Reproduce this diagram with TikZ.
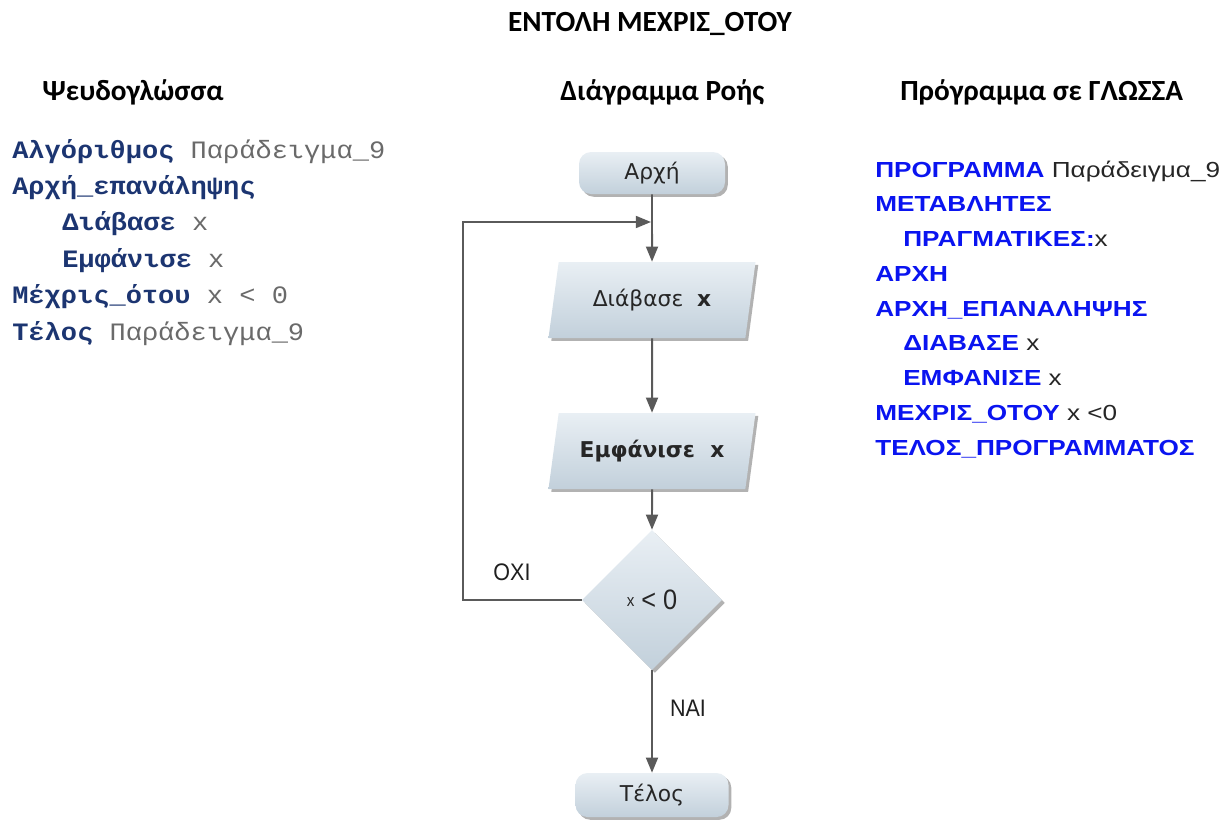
\documentclass[tikz,border=0pt]{standalone}
\usepackage{fontspec}
\usepackage{tikz}
\usetikzlibrary{shapes.geometric}
\usetikzlibrary{arrows.meta}
\usetikzlibrary{shadows}
\setmainfont{Carlito}
\newfontfamily\pseudofont[FakeStretch=1.08]{Liberation Mono}
\newfontfamily\progfont[FakeStretch=1.2]{Liberation Sans}
\newfontfamily\flowfont{DejaVu Sans}
\newfontfamily\answerfont[FakeStretch=0.9]{Liberation Sans}
\definecolor{pseudoblue}{HTML}{1C3571}
\definecolor{pseudogray}{HTML}{6A6A6A}
\definecolor{progblue}{HTML}{0A14F0}
\definecolor{flowgray}{HTML}{5A5A5A}
\definecolor{shapetop}{HTML}{E9EFF4}
\definecolor{shapebot}{HTML}{C2D0DB}
\newcommand{\pkw}[1]{{\bfseries\color{pseudoblue}#1}}
\newcommand{\gkw}[1]{{\bfseries\color{progblue}#1}}
\tikzset{shapefill/.style={top color=shapetop, bottom color=shapebot, draw=none, text=black!85,
    drop shadow={shadow xshift=.7mm, shadow yshift=-.7mm, fill=black!55, opacity=.55}}}
\tikzset{term/.style={shapefill, rectangle, rounded corners=3mm, minimum width=36.5mm,
    minimum height=10.5mm, font=\flowfont\fontsize{15.5}{18}\selectfont}}
\tikzset{io/.style={shapefill, trapezium, trapezium left angle=72, trapezium right angle=108,
    trapezium stretches body, minimum width=51.75mm, minimum height=19mm,
    font=\flowfont\fontsize{15.5}{18}\selectfont}}
\tikzset{decision/.style={shapefill, diamond, aspect=1, inner sep=0pt, minimum width=35mm,
    minimum height=35mm, font=\answerfont}}
\tikzset{flow/.style={draw=flowgray, line width=1.4pt, -{Triangle[length=3.8mm, width=3mm]}}}
\tikzset{heading/.style={font=\bfseries\fontsize{20.8}{24}\selectfont, inner sep=0pt}}
\tikzset{answer/.style={font=\answerfont\fontsize{17}{20}\selectfont, text=black!88}}

\begin{document}
\begin{tikzpicture}[x=0.25mm,y=-0.25mm]
  \useasboundingbox (0,0) rectangle (1232,819);
  % titles
  \node[heading, anchor=base] (title) at (650,32) {ΕΝΤΟΛΗ ΜΕΧΡΙΣ\_ΟΤΟΥ};
  \node[heading, anchor=base west] (pseudohead) at (42,101) {Ψευδογλώσσα};
  \node[heading, anchor=base west] (flowhead) at (560,101) {Διάγραμμα Ροής};
  \node[heading, anchor=base west] (proghead) at (900,101) {Πρόγραμμα σε ΓΛΩΣΣΑ};
  % pseudocode
  \foreach \i/\ind/\txt in {
    0/0/{\pkw{Αλγόριθμος} Παράδειγμα\_9},
    1/0/{\pkw{Αρχή\_επανάληψης}},
    2/1/{\pkw{Διάβασε} x},
    3/1/{\pkw{Εμφάνισε} x},
    4/0/{\pkw{Μέχρις\_ότου} x < 0},
    5/0/{\pkw{Τέλος} Παράδειγμα\_9}%
  } {
    \node[anchor=base west, inner sep=0pt, text=pseudogray,
      font=\pseudofont\fontsize{17.8}{20}\selectfont] (ps\i) at ({12+50*\ind},{158+36.4*\i}) {\txt};
  }
  % program
  \foreach \i/\ind/\txt in {
    0/0/{\gkw{ΠΡΟΓΡΑΜΜΑ} Παράδειγμα\_9},
    1/0/{\gkw{ΜΕΤΑΒΛΗΤΕΣ}},
    2/1/{\gkw{ΠΡΑΓΜΑΤΙΚΕΣ:}x},
    3/0/{\gkw{ΑΡΧΗ}},
    4/0/{\gkw{ΑΡΧΗ\_ΕΠΑΝΑΛΗΨΗΣ}},
    5/1/{\gkw{ΔΙΑΒΑΣΕ} x},
    6/1/{\gkw{ΕΜΦΑΝΙΣΕ} x},
    7/0/{\gkw{ΜΕΧΡΙΣ\_ΟΤΟΥ} x <0},
    8/0/{\gkw{ΤΕΛΟΣ\_ΠΡΟΓΡΑΜΜΑΤΟΣ}}%
  } {
    \node[anchor=base west, inner sep=0pt, text=black!85,
      font=\progfont\fontsize{15.5}{18}\selectfont] (pg\i) at ({875+28*\ind},{177+34.75*\i}) {\txt};
  }
  % flowchart
  \node[term] (start) at (652,173) {Αρχή};
  \node[io] (read) at (652,300) {Διάβασε\ \ \textbf{x}};
  \node[io] (show) at (652,451) {\textbf{Εμφάνισε\ \ x}};
  \node[decision] (cond) at (652,600) {\raisebox{2pt}{\fontsize{12}{14}\selectfont x}\hspace{5pt}{\fontsize{20}{22}\selectfont < 0}};
  \node[term, minimum width=38.25mm, minimum height=11mm] (stop) at (652,795) {Τέλος};
  \node[answer] (no) at (512,572) {ΟΧΙ};
  \node[answer] (yes) at (688,708) {ΝΑΙ};
  \coordinate (corner) at (463,222);
  \coordinate (merge) at (651,222);
  \draw[flow] (start) -- (read);
  \draw[flow] (read) -- (show);
  \draw[flow] (show) -- (cond);
  \draw[flow] (cond) -- (stop);
  \draw[flow] (cond.west) -| (corner) -- (merge);
\end{tikzpicture}
\end{document}
